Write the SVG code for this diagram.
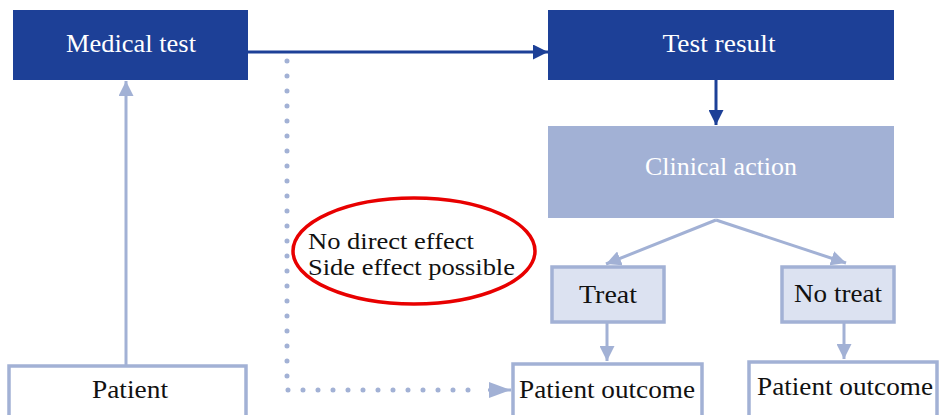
<svg xmlns="http://www.w3.org/2000/svg" width="939" height="415" viewBox="0 0 939 415">
<style>
text{font-family:"Liberation Serif","DejaVu Serif",serif;font-size:25px;text-anchor:middle}
.dark{fill:#1d4097}
.light{fill:#dce2f1;stroke:#a2b1d5;stroke-width:3.5}
.white{fill:#fff;stroke:#a2b1d5;stroke-width:3.5}
.wt{fill:#fff}
.bt{fill:#111}
.cd{stroke:#1d4097;stroke-width:3;fill:none}
.cl{stroke:#a2b1d5;stroke-width:3;fill:none}
</style>
<defs>
<marker id="ad" viewBox="0 0 10 10" refX="10" refY="5" markerWidth="5" markerHeight="5" orient="auto" markerUnits="strokeWidth"><path d="M0,0L10,5L0,10z" fill="#1d4097"/></marker>
<marker id="al" viewBox="0 0 10 10" refX="10" refY="5" markerWidth="5" markerHeight="5" orient="auto" markerUnits="strokeWidth"><path d="M0,0L10,5L0,10z" fill="#a2b1d5"/></marker>
<marker id="alb" viewBox="0 0 22 16" refX="22" refY="8" markerWidth="22" markerHeight="16" orient="auto" markerUnits="userSpaceOnUse"><path d="M0,0L22,8L0,16z" fill="#a2b1d5"/></marker>
</defs>
<g id="connectors">
<path class="cd" d="M248,52H548" marker-end="url(#ad)"/>
<path class="cd" d="M716,80V125" marker-end="url(#ad)"/>
<path class="cl" d="M126,365V81" marker-end="url(#al)"/>
<path class="cl" d="M716,220L606,264" marker-end="url(#al)"/>
<path class="cl" d="M716,220L846,263" marker-end="url(#al)"/>
<path class="cl" d="M607,322V361" marker-end="url(#al)"/>
<path class="cl" d="M844,322V359" marker-end="url(#al)"/>
<path d="M287,61V390H482" fill="none" stroke="#a2b1d5" stroke-width="5" stroke-linecap="round" stroke-dasharray="0 15"/>
<path class="cl" d="M488,390H511" marker-end="url(#alb)"/>
</g>
<g id="medical-test"><rect class="dark" x="13" y="10" width="235" height="70"/><text class="wt" x="131" y="52" textLength="130" lengthAdjust="spacingAndGlyphs">Medical test</text></g>
<g id="test-result"><rect class="dark" x="548" y="10" width="346" height="70"/><text class="wt" x="719" y="52" textLength="113" lengthAdjust="spacingAndGlyphs">Test result</text></g>
<g id="clinical-action"><rect x="548" y="126" width="346" height="92" fill="#a2b1d5"/><text class="wt" x="721" y="175" textLength="152" lengthAdjust="spacingAndGlyphs">Clinical action</text></g>
<g id="treat"><rect class="light" x="552" y="267" width="112" height="55"/><text class="bt" x="608" y="303" textLength="58" lengthAdjust="spacingAndGlyphs">Treat</text></g>
<g id="no-treat"><rect class="light" x="782" y="267" width="112" height="55"/><text class="bt" x="838" y="302" textLength="88" lengthAdjust="spacingAndGlyphs">No treat</text></g>
<g id="patient"><rect class="white" x="9" y="366" width="237" height="60"/><text class="bt" x="130" y="398" textLength="76" lengthAdjust="spacingAndGlyphs">Patient</text></g>
<g id="patient-outcome-1"><rect class="white" x="513" y="364" width="189" height="60"/><text class="bt" x="607" y="398" textLength="176" lengthAdjust="spacingAndGlyphs">Patient outcome</text></g>
<g id="patient-outcome-2"><rect class="white" x="749" y="362" width="188" height="60"/><text class="bt" x="845" y="395" textLength="176" lengthAdjust="spacingAndGlyphs">Patient outcome</text></g>
<g id="note">
<ellipse cx="414" cy="251" rx="121" ry="53" fill="none" stroke="#e80000" stroke-width="3.5"/>
<text class="bt" x="308" y="249" style="text-anchor:start;font-size:23px" textLength="166" lengthAdjust="spacingAndGlyphs">No direct effect</text>
<text class="bt" x="308" y="275" style="text-anchor:start;font-size:23px" textLength="207" lengthAdjust="spacingAndGlyphs">Side effect possible</text>
</g>
</svg>
